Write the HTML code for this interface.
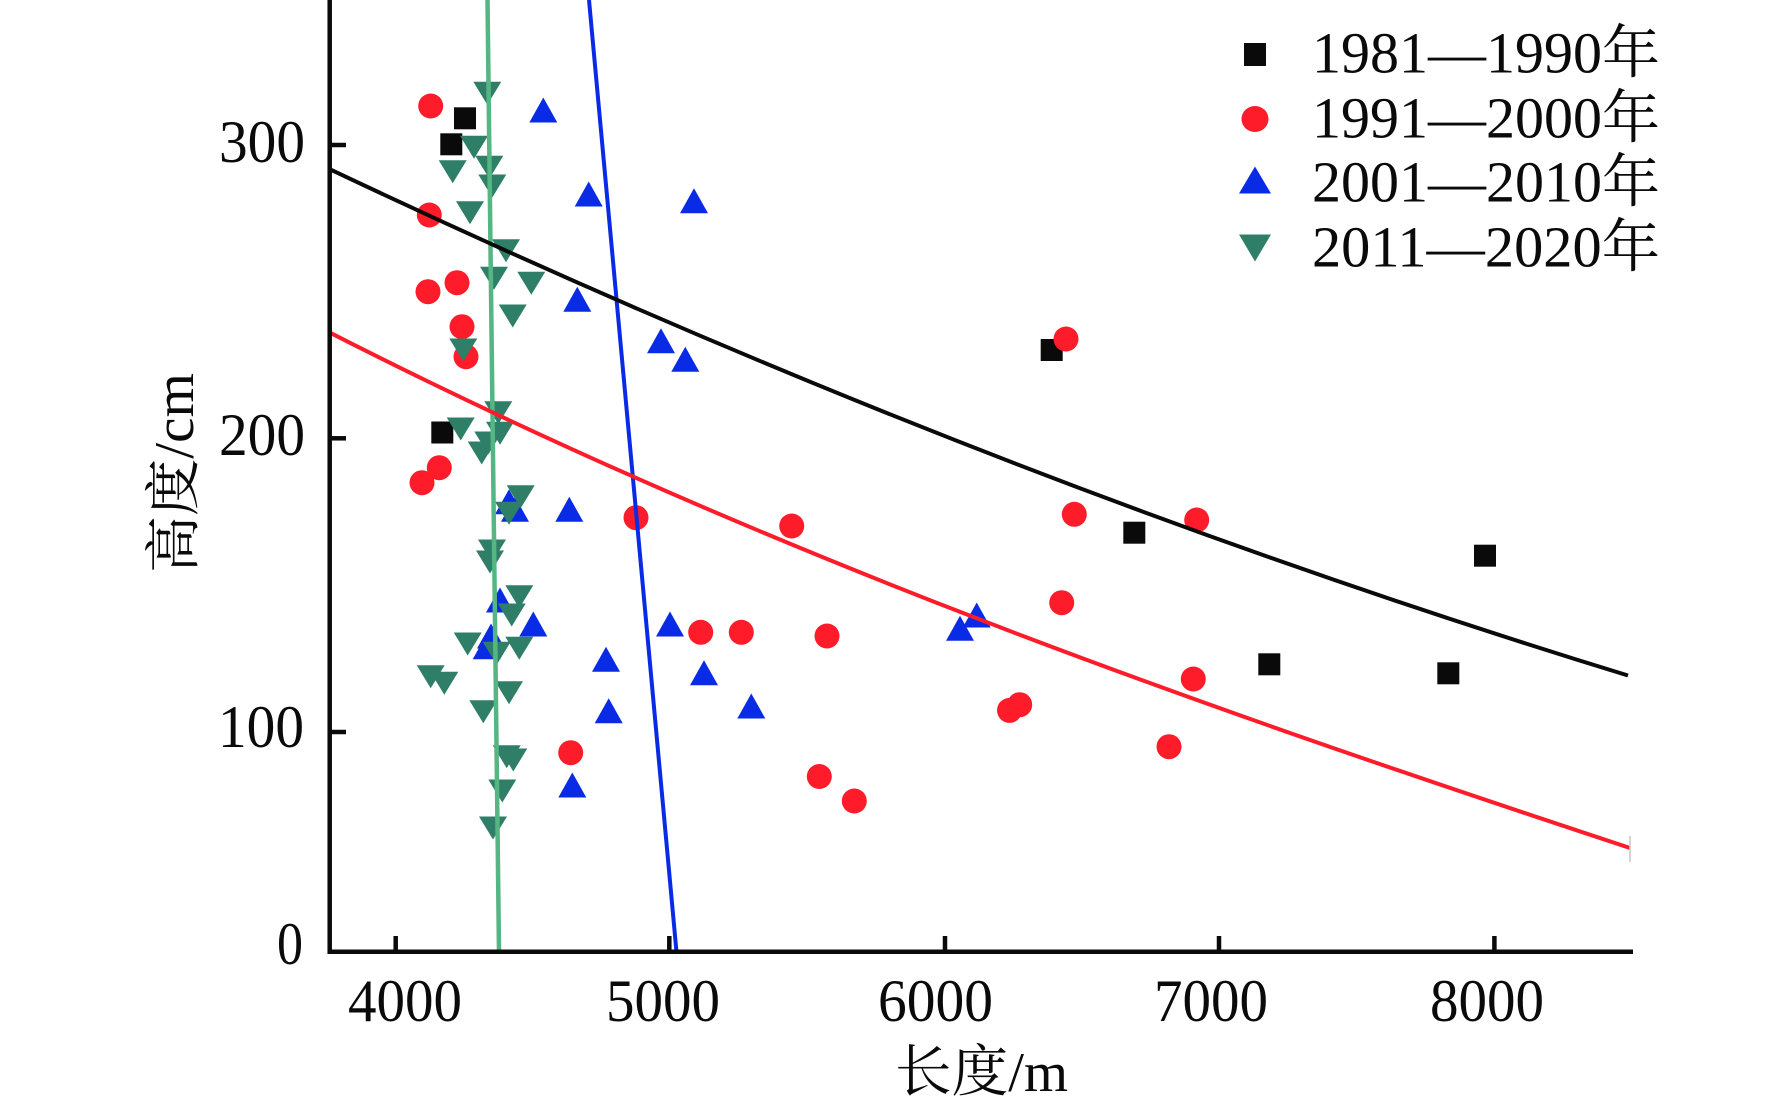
<!DOCTYPE html>
<html>
<head>
<meta charset="utf-8">
<style>
html,body{margin:0;padding:0;background:#fff;}
svg{display:block;}
text{font-family:"Liberation Serif","Noto Serif CJK SC","Noto Sans CJK SC",serif;fill:#0a0a0a;}
</style>
</head>
<body>
<svg width="1772" height="1109" viewBox="0 0 1772 1109" xmlns="http://www.w3.org/2000/svg">
<rect width="1772" height="1109" fill="#fff"/>

<!-- black squares -->
<g fill="#0a0a0a">
<rect x="454" y="107.3" width="22" height="22"/>
<rect x="440.3" y="133.3" width="22" height="22"/>
<rect x="431.3" y="421.5" width="22" height="22"/>
<rect x="1040.7" y="339" width="22" height="22"/>
<rect x="1123.3" y="521.7" width="22" height="22"/>
<rect x="1474" y="544.7" width="22" height="22"/>
<rect x="1258.3" y="653.3" width="22" height="22"/>
<rect x="1437.3" y="662.3" width="22" height="22"/>
</g>

<!-- red circles -->
<g fill="#fe1c2b">
<circle cx="430.7" cy="106" r="12.5"/>
<circle cx="429.3" cy="215" r="12.5"/>
<circle cx="457" cy="282.7" r="12.5"/>
<circle cx="428" cy="291.7" r="12.5"/>
<circle cx="462" cy="326.7" r="12.5"/>
<circle cx="466" cy="356.7" r="12.5"/>
<circle cx="439.3" cy="467.7" r="12.5"/>
<circle cx="422" cy="482.7" r="12.5"/>
<circle cx="1066" cy="339" r="12.5"/>
<circle cx="636" cy="517.7" r="12.5"/>
<circle cx="791.7" cy="526" r="12.5"/>
<circle cx="1074.3" cy="514.3" r="12.5"/>
<circle cx="1196.7" cy="520" r="12.5"/>
<circle cx="1061.7" cy="602.7" r="12.5"/>
<circle cx="700.7" cy="632.3" r="12.5"/>
<circle cx="741.3" cy="632.3" r="12.5"/>
<circle cx="827" cy="636" r="12.5"/>
<circle cx="1193.3" cy="679" r="12.5"/>
<circle cx="1019.7" cy="704.7" r="12.5"/>
<circle cx="1009.5" cy="710.4" r="12.5"/>
<circle cx="570.7" cy="752.7" r="12.5"/>
<circle cx="1169" cy="746.7" r="12.5"/>
<circle cx="819.3" cy="776.5" r="12.5"/>
<circle cx="854.3" cy="801" r="12.5"/>
</g>

<!-- blue up triangles -->
<path fill="#0a2be6" d="
M543.3,97.5 l-14,25 h28 z
M588.7,181.5 l-14,25 h28 z
M694,188.2 l-14,25 h28 z
M577.3,286.8 l-14,25 h28 z
M661,328.2 l-14,25 h28 z
M685.3,346.8 l-14,25 h28 z
M509,489.2 l-14,25 h28 z
M515,496.8 l-14,25 h28 z
M569.3,496.8 l-14,25 h28 z
M500,587.5 l-14,25 h28 z
M533.3,611.5 l-14,25 h28 z
M670,611.5 l-14,25 h28 z
M491,623.5 l-14,25 h28 z
M486.7,634.2 l-14,25 h28 z
M606,646.8 l-14,25 h28 z
M704,660.2 l-14,25 h28 z
M608.7,698.2 l-14,25 h28 z
M751.3,693.5 l-14,25 h28 z
M572.3,772.5 l-14,25 h28 z
M976.7,602.5 l-14,25 h28 z
M960,615.8 l-14,25 h28 z"/>

<!-- green down triangles -->
<path fill="#2f7f68" d="
M473.3,81.8 h28 l-14,23 z
M460,135.8 h28 l-14,23 z
M475.3,155.8 h28 l-14,23 z
M438.7,160.2 h28 l-14,23 z
M478.3,174.5 h28 l-14,23 z
M456,201.2 h28 l-14,23 z
M492,239.2 h28 l-14,23 z
M480,266.8 h28 l-14,23 z
M517.3,271.8 h28 l-14,23 z
M498.7,304.5 h28 l-14,23 z
M449.3,338.5 h28 l-14,23 z
M484.3,401.2 h28 l-14,23 z
M446.7,417.5 h28 l-14,23 z
M486,421.8 h28 l-14,23 z
M474.3,431.5 h28 l-14,23 z
M467.7,441.5 h28 l-14,23 z
M506.7,485.2 h28 l-14,23 z
M495,501.8 h28 l-14,23 z
M478,539.5 h28 l-14,23 z
M476,550.5 h28 l-14,23 z
M505.3,585.2 h28 l-14,23 z
M497.7,603.5 h28 l-14,23 z
M453.7,632.5 h28 l-14,23 z
M482.7,641.8 h28 l-14,23 z
M505.3,636.8 h28 l-14,23 z
M416.7,665.2 h28 l-14,23 z
M430.3,671.8 h28 l-14,23 z
M495,681.2 h28 l-14,23 z
M469.3,700.2 h28 l-14,23 z
M492.7,745.2 h28 l-14,23 z
M499.3,748.5 h28 l-14,23 z
M488.3,779.5 h28 l-14,23 z
M479,816.5 h28 l-14,23 z"/>

<!-- fitted lines -->
<line x1="487.5" y1="0" x2="499" y2="952" stroke="#55b583" stroke-width="4.5"/>
<line x1="589" y1="0" x2="676.5" y2="952" stroke="#0a2be6" stroke-width="4"/>
<path d="M330,169.3 Q978,476.2 1628,675.5" fill="none" stroke="#0a0a0a" stroke-width="4"/>
<path d="M330,332.7 C762.7,553.4 1195.3,704.5 1630,848" fill="none" stroke="#fe1c2b" stroke-width="4"/>
<line x1="1630" y1="836" x2="1630" y2="862" stroke="#c8c8c8" stroke-width="1.5"/>

<!-- axes -->
<g stroke="#0a0a0a" stroke-width="4.5" fill="none">
<line x1="329.7" y1="0" x2="329.7" y2="954"/>
<line x1="327.5" y1="951.7" x2="1633" y2="951.7"/>
</g>
<g stroke="#0a0a0a" stroke-width="4.5">
<line x1="330" y1="145" x2="346" y2="145"/>
<line x1="330" y1="438.3" x2="346" y2="438.3"/>
<line x1="330" y1="732" x2="346" y2="732"/>
<line x1="395.7" y1="952" x2="395.7" y2="936"/>
<line x1="669.3" y1="952" x2="669.3" y2="936"/>
<line x1="945" y1="952" x2="945" y2="936"/>
<line x1="1219" y1="952" x2="1219" y2="936"/>
<line x1="1494.4" y1="952" x2="1494.4" y2="936"/>
</g>

<!-- y tick labels -->
<g font-size="60">
<text x="305" y="162" text-anchor="end" textLength="86" lengthAdjust="spacingAndGlyphs">300</text>
<text x="305" y="455" text-anchor="end" textLength="86" lengthAdjust="spacingAndGlyphs">200</text>
<text x="304" y="747" text-anchor="end" textLength="86" lengthAdjust="spacingAndGlyphs">100</text>
<text x="277" y="964" textLength="26" lengthAdjust="spacingAndGlyphs">0</text>
</g>

<!-- x tick labels -->
<g font-size="60">
<text x="348" y="1021" textLength="114" lengthAdjust="spacingAndGlyphs">4000</text>
<text x="606" y="1021" textLength="114" lengthAdjust="spacingAndGlyphs">5000</text>
<text x="878" y="1021" textLength="115" lengthAdjust="spacingAndGlyphs">6000</text>
<text x="1154" y="1021" textLength="114" lengthAdjust="spacingAndGlyphs">7000</text>
<text x="1430" y="1021" textLength="114" lengthAdjust="spacingAndGlyphs">8000</text>
</g>

<!-- axis titles -->
<text x="895" y="1091" font-size="56" textLength="173" lengthAdjust="spacingAndGlyphs">长度/m</text>
<text transform="translate(193,473) rotate(-90)" text-anchor="middle" font-size="56" textLength="200" lengthAdjust="spacingAndGlyphs">高度/cm</text>

<!-- legend -->
<rect x="1244" y="43" width="22" height="23" fill="#0a0a0a"/>
<ellipse cx="1255" cy="119" rx="13.5" ry="13" fill="#fe1c2b"/>
<path d="M1255,166.5 l-16,27 h32 z" fill="#0a2be6"/>
<path d="M1239,234.5 h32 l-16,27 z" fill="#2f7f68"/>
<g font-size="58">
<text x="1312" y="72.5" textLength="348" lengthAdjust="spacingAndGlyphs">1981—1990年</text>
<text x="1312" y="137.5" textLength="348" lengthAdjust="spacingAndGlyphs">1991—2000年</text>
<text x="1312" y="201.5" textLength="348" lengthAdjust="spacingAndGlyphs">2001—2010年</text>
<text x="1312" y="266.5" textLength="348" lengthAdjust="spacingAndGlyphs">2011—2020年</text>
</g>
</svg>
</body>
</html>
